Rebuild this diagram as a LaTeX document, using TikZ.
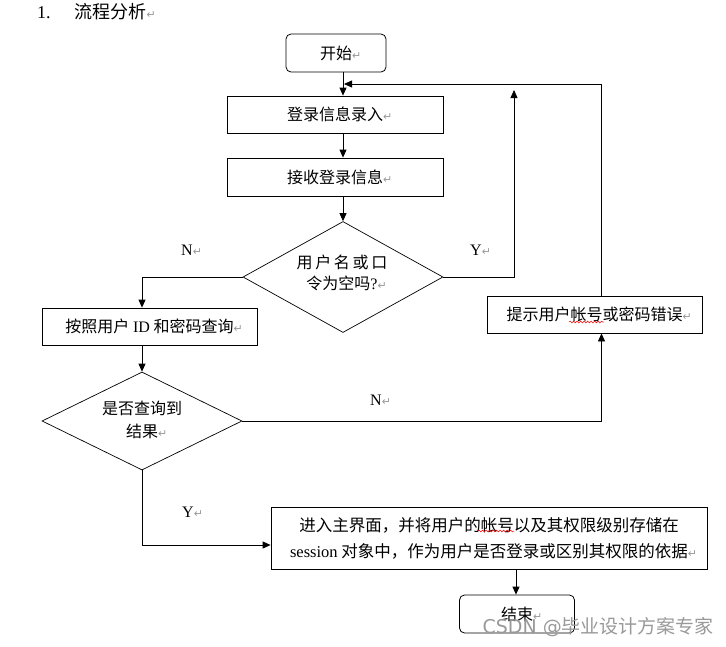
\documentclass[tikz,border=0pt]{standalone}
\usepackage{fontspec}
\setmainfont{Noto Sans CJK SC}
\newfontfamily\tnr{Liberation Serif}
\newfontfamily\symf{DejaVu Sans}
\usetikzlibrary{arrows.meta,shapes.geometric,decorations.pathmorphing}
\newcommand\retm{\rlap{\color{black!40}\symf\fontsize{11}{11}\selectfont ↵}}
\begin{document}
\begin{tikzpicture}[x=1pt,y=-1pt,
  every node/.style={inner sep=0pt, font=\fontsize{16}{22}\selectfont},
  box/.style={draw, line width=0.8pt, rectangle, align=center},
  rbox/.style={draw, line width=0.8pt, rounded corners=5pt},
  dia/.style={draw, line width=0.7pt, diamond, align=center},
  lbl/.style={font=\tnr\fontsize{16}{16}\selectfont},
  ln/.style={line width=0.8pt},
  arr/.style={line width=0.8pt, -{Triangle[length=8pt,width=7pt]}},
  wavy/.style={draw=red, line width=0.5pt, decorate, decoration={snake, amplitude=0.9pt, segment length=3.5pt}}
]
\useasboundingbox (0,0) rectangle (726,646);

\node[anchor=west, font=\fontsize{18}{18}\selectfont] (title) at (37,12) {{\tnr 1.}\hspace{24pt}流程分析\retm};

\node[rbox, minimum width=100pt, minimum height=38pt] (start) at (336,53) {开始\retm};
\node[box, minimum width=216pt, minimum height=37pt] (login) at (335,114.5) {登录信息录入\retm};
\node[box, minimum width=216pt, minimum height=38pt] (recv) at (335,177) {接收登录信息\retm};
\node[dia, minimum width=200pt, minimum height=111pt] (d1) at (343,277) {};
\node[align=center, font=\fontsize{16}{21}\selectfont] (t1) at (342,273) {用\,户\,名\,或\,口\\令为空吗{\tnr ?}\retm};
\node[box, minimum width=215pt, minimum height=37pt] (query) at (149.5,326.5) {按照用户 {\tnr ID} 和密码查询\retm};
\node[box, minimum width=215pt, minimum height=37pt] (tip) at (594.5,314.5) {提示用户帐号或密码错误\retm};
\node[dia, minimum width=200pt, minimum height=98pt] (d2) at (142,421) {};
\node[align=center, font=\fontsize{16}{23}\selectfont] (t2) at (142,420) {是否查询到\\结果\retm};
\node[box, minimum width=436pt, minimum height=62pt, font=\fontsize{16.5}{26}\selectfont] (enter) at (489,538.5)
  {进入主界面，并将用户的帐号以及其权限级别存储在\\{\tnr session} 对象中，作为用户是否登录或区别其权限的依据\retm};
\node[rbox, minimum width=115pt, minimum height=38pt] (end) at (517,614) {结束\retm};

\node[lbl] (n1) at (187,250) {N\retm};
\node[lbl] (y1) at (476,250) {Y\retm};
\node[lbl] (n2) at (376,400) {N\retm};
\node[lbl] (y2) at (188,512) {Y\retm};

\coordinate (cx) at (343,0);
\coordinate (qx) at (142,0);
\coordinate (fx) at (601.5,0);
\coordinate (ey) at (0,545);
\coordinate (ex) at (516,0);
\coordinate (yup) at (514,90);
\coordinate (fbend) at (344,84);

\draw[arr] (start.south -| cx) -- (login.north -| cx);
\draw[arr] (login.south -| cx) -- (recv.north -| cx);
\draw[arr] (recv.south -| cx) -- (d1.north);
\draw[arr] (d1.west) -| (query.north -| qx);
\draw[arr] (d1.east) -| (yup);
\draw[arr] (tip.north -| fx) |- (fbend);
\draw[arr] (query.south -| qx) -- (d2.north);
\draw[arr] (d2.east) -| (tip.south -| fx);
\draw[arr] (d2.south) |- (enter.west |- ey);
\draw[arr] (enter.south -| ex) -- (end.north -| ex);

\coordinate (w1a) at (569,322);
\coordinate (w1b) at (604,322);
\coordinate (w2a) at (478,531);
\coordinate (w2b) at (514,531);
\draw[wavy] (w1a) -- (w1b);
\draw[wavy] (w2a) -- (w2b);

\node[anchor=east, text=black!40, font=\fontsize{19}{19}\selectfont] (wm) at (714,627) {{\symf CSDN @}毕业设计方案专家};
\end{tikzpicture}
\end{document}
